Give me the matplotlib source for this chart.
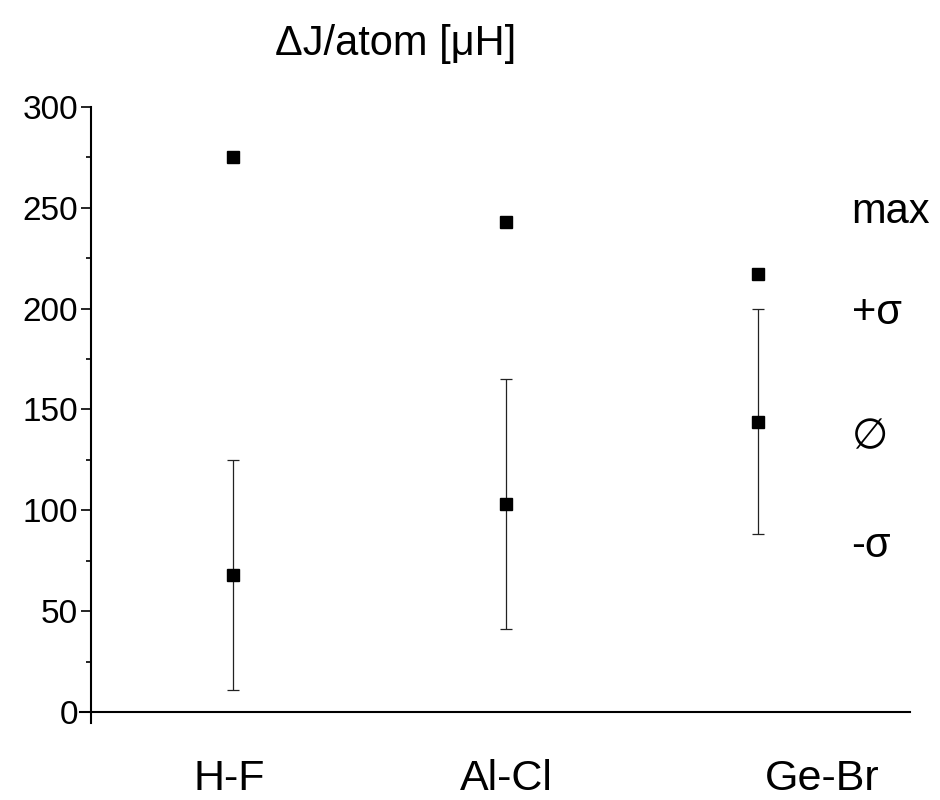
import matplotlib
matplotlib.use("Agg")
import matplotlib.pyplot as plt
from matplotlib.ticker import MultipleLocator

plt.rcParams['font.family'] = ['Liberation Sans', 'DejaVu Sans']

# Bond types and statistics of Delta J per atom (micro-Hartree)
bonds = ["H-F", "Al-Cl", "Ge-Br"]
mean_vals = [68, 103, 144]
sigma_vals = [57, 62, 56]
max_vals = [275, 243, 217]

# horizontal placement of each bond group and its label
x_pos = [1.0, 2.0, 2.923]
label_x = [0.987, 2.0, 3.157]
key_labels = ["max", "+σ", "∅", "-σ"]
key_y = [248, 198, 136.5, 82.5]

fig = plt.figure(figsize=(9.4, 8.0), dpi=100)
ax = fig.add_axes([0.0851, 0.09625, 0.8829, 0.77])

ax.errorbar(x_pos, mean_vals, yerr=sigma_vals, fmt='s', color='black',
            ecolor='#222222', elinewidth=0.9, capsize=4.3, capthick=0.9,
            markersize=8.5, zorder=3)
ax.plot(x_pos, max_vals, 's', color='black', markersize=8.5, zorder=3)

ax.set_xlim(0.4396, 3.48)
ax.set_ylim(-5.5, 300)

for s in ("top", "right"):
    ax.spines[s].set_visible(False)
ax.spines["left"].set_position(("data", 0.48))
ax.spines["left"].set_bounds(-5.5, 300)
ax.spines["bottom"].set_position(("data", 0))
ax.spines["left"].set_linewidth(1.5)
ax.spines["bottom"].set_linewidth(1.5)

ax.yaxis.set_major_locator(MultipleLocator(50))
ax.yaxis.set_minor_locator(MultipleLocator(25))
ax.tick_params(axis='y', which='major', length=7.5, width=1.2, labelsize=24, pad=2)
ax.tick_params(axis='y', which='minor', length=3.8, width=1.2)
ax.set_xticks([])

for x, name in zip(label_x, bonds):
    ax.text(x, -33.5, name, ha='center', va='center', fontsize=31)

for y, lab in zip(key_y, key_labels):
    ax.text(3.266, y, lab, ha='left', va='center', fontsize=30)

fig.text(0.421, 0.945, "ΔJ/atom [μH]", ha='center', va='center', fontsize=30)

fig.savefig("out.png", dpi=100)
